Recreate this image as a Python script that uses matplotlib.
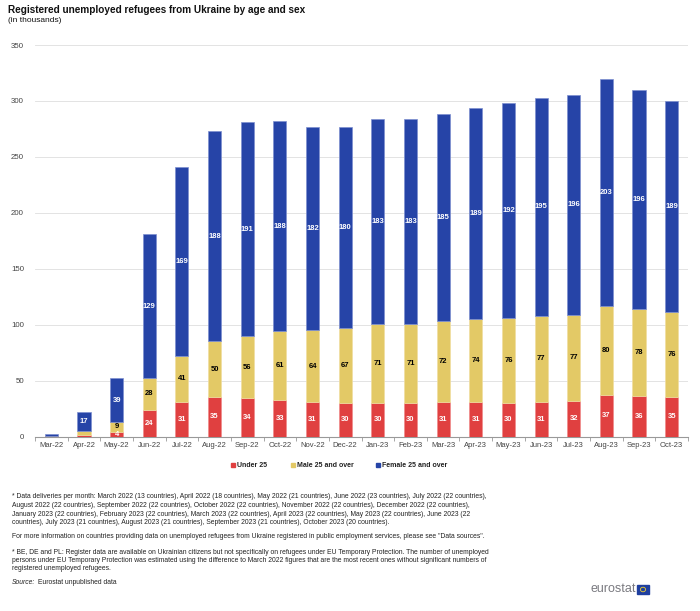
import matplotlib
matplotlib.use("Agg")
import matplotlib.pyplot as plt
from matplotlib import font_manager
from matplotlib.patches import Rectangle, Circle
import numpy as np

months = ["Mar-22", "Apr-22", "May-22", "Jun-22", "Jul-22", "Aug-22", "Sep-22", "Oct-22",
          "Nov-22", "Dec-22", "Jan-23", "Feb-23", "Mar-23", "Apr-23", "May-23", "Jun-23",
          "Jul-23", "Aug-23", "Sep-23", "Oct-23"]
under25 = [0.2, 1.5, 4, 24, 31, 35, 34, 33, 31, 30, 30, 30, 31, 31, 30, 31, 32, 37, 36, 35]
male25 = [0.2, 3.2, 9, 28, 41, 50, 56, 61, 64, 67, 71, 71, 72, 74, 76, 77, 77, 80, 78, 76]
female25 = [1.6, 17, 39, 129, 169, 188, 191, 188, 182, 180, 183, 183, 185, 189, 192, 195, 196, 203, 196, 189]
series_names = ["Under 25", "Male 25 and over", "Female 25 and over"]
yticks = [0, 50, 100, 150, 200, 250, 300, 350]

colors = ["#E04040", "#E3C966", "#2644A7"]
edge_colors = ["#f08a8a", "#f0dea0", "#7d8fd0"]
label_colors = ["white", "black", "white"]

avail = {f.name for f in font_manager.fontManager.ttflist}
base = "Liberation Sans" if "Liberation Sans" in avail else "DejaVu Sans"
narrow = "Liberation Sans Narrow" if "Liberation Sans Narrow" in avail else base
plt.rcParams["font.family"] = [base, "DejaVu Sans"]

W, H = 700, 611
fig = plt.figure(figsize=(W / 100, H / 100), dpi=100)

def fx(px):
    return px / W

def fy(py):
    return 1 - py / H

ax = fig.add_axes([fx(35), fy(436.5), fx(688) - fx(35), fy(45) - fy(436.5)])

x = np.arange(len(months))
bottom = np.zeros(len(months))
for vals, col, ec, lc in zip([under25, male25, female25], colors, edge_colors, label_colors):
    v = np.array(vals, dtype=float)
    ax.bar(x, v, width=0.4, bottom=bottom, color=col, edgecolor=ec,
           linewidth=0.5, zorder=3)
    for xi, b, val in zip(x, bottom, v):
        if val >= 4:
            ax.text(xi, b + val / 2, f"{int(round(val))}", ha="center", va="center",
                    fontsize=5.5, fontweight="bold", color=lc, zorder=4)
    bottom = bottom + v

ax.set_xlim(-0.5, len(months) - 0.5)
ax.set_ylim(0, 350)
ax.set_yticks(yticks)
ax.set_yticklabels([str(t) for t in yticks], fontsize=5.7, color="#444444")
ax.tick_params(axis="y", length=0, pad=8)
ax.grid(axis="y", color="#dedede", linewidth=0.6, zorder=0)
ax.set_axisbelow(True)

ax.set_xticks(x)
ax.set_xticklabels(months, fontsize=5.5, color="#444444")
ax.tick_params(axis="x", which="major", length=0, pad=4)
ax.set_xticks(np.arange(-0.5, len(months), 1), minor=True)
ax.tick_params(axis="x", which="minor", length=3, color="#999999", width=0.6)

for s in ["left", "right", "top"]:
    ax.spines[s].set_visible(False)
ax.spines["bottom"].set_color("#999999")
ax.spines["bottom"].set_linewidth(0.8)

# Legend (manual placement)
leg_items = [(233, series_names[0]), (293, series_names[1]), (378, series_names[2])]
for (px, name), col in zip(leg_items, colors):
    fig.add_artist(Rectangle((fx(px - 2), fy(467)), 4 / W, 4 / H, color=col,
                             transform=fig.transFigure))
    fig.text(fx(px + 4), fy(465.5), name, fontsize=5.0, fontweight="bold",
             color="#222222", va="center", ha="left")

# Title
fig.text(fx(8), fy(10), "Registered unemployed refugees from Ukraine by age and sex",
         fontsize=7.2, fontweight="bold", va="center", ha="left", color="#111111")
fig.text(fx(8), fy(21), "(in thousands)", fontsize=6.0, va="center", ha="left",
         color="#111111")

# Footnotes
fs = 4.85
foot = [
    (497, "* Data deliveries per month: March 2022 (13 countries), April 2022 (18 countries), May 2022 (21 countries), June 2022 (23 countries), July 2022 (22 countries),"),
    (505.5, "August 2022 (22 countries), September 2022 (22 countries), October 2022 (22 countries), November 2022 (22 countries), December 2022 (22 countries),"),
    (514, "January 2023 (22 countries), February 2023 (22 countries), March 2023 (22 countries), April 2023 (22 countries), May 2023 (22 countries), June 2023 (22"),
    (522.5, "countries), July 2023 (21 countries), August 2023 (21 countries), September 2023 (21 countries), October 2023 (20 countries)."),
    (537, "For more information on countries providing data on unemployed refugees from Ukraine registered in public employment services, please see \"Data sources\"."),
    (552, "* BE, DE and PL: Register data are available on Ukrainian citizens but not specifically on refugees under EU Temporary Protection. The number of unemployed"),
    (560.5, "persons under EU Temporary Protection was estimated using the difference to March 2022 figures that are the most recent ones without significant numbers of"),
    (569, "registered unemployed refugees."),
]
for py, txt in foot:
    fig.text(fx(12), fy(py), txt, fontsize=fs, family=[narrow, "DejaVu Sans"],
             va="center", ha="left", color="#222222")
src = fig.text(fx(12), fy(582), "Source:", fontsize=fs, style="italic",
               family=[narrow, "DejaVu Sans"], va="center", ha="left", color="#222222")
fig.canvas.draw()
bb = src.get_window_extent(renderer=fig.canvas.get_renderer())
fig.text((bb.x1 + 3) / W, fy(582), "Eurostat unpublished data", fontsize=fs,
         family=[narrow, "DejaVu Sans"], va="center", ha="left", color="#222222")

# Eurostat logo
fig.text(fx(636), fy(589), "eurostat", fontsize=9, color="#7a7a80", va="center",
         ha="right")
fig.add_artist(Rectangle((fx(637), fy(594)), 12 / W, 9 / H, color="#1f3f9f",
                         transform=fig.transFigure))
fig.add_artist(Circle((fx(643), fy(589.5)), 2.6 / W, fill=False, edgecolor="#f2d22e",
                      linewidth=0.6, transform=fig.transFigure))

fig.savefig("out.png", dpi=100)
